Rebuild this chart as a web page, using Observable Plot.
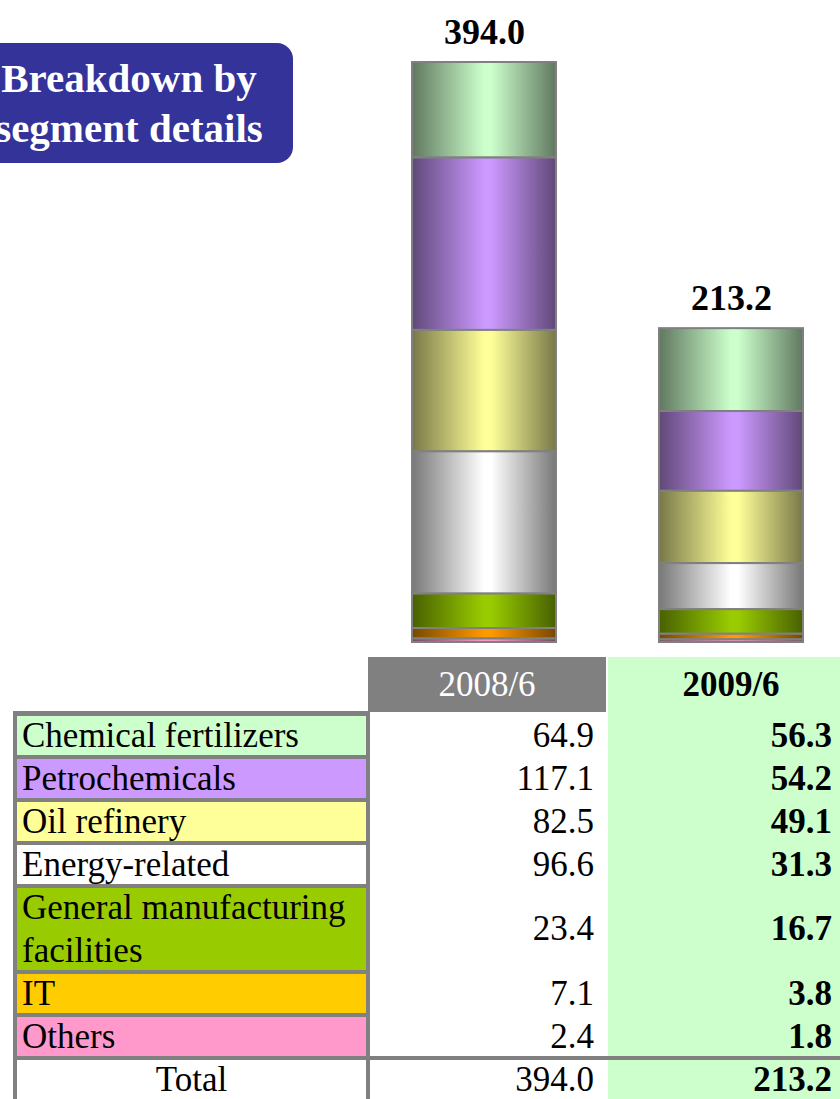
<!DOCTYPE html>
<html>
<head>
<meta charset="utf-8">
<script src="https://cdn.jsdelivr.net/npm/d3@7"></script>
<script src="https://cdn.jsdelivr.net/npm/@observablehq/plot@0.6"></script>
<style>
  html, body { margin: 0; padding: 0; background: #fff; }
  body { width: 840px; height: 1099px; overflow: hidden; position: relative;
         font-family: "Liberation Serif", "Times New Roman", serif; }
  #chart { position: absolute; left: 0; top: 0; }
  #title { position: absolute; left: -35px; top: 43px; width: 328px; height: 120px;
           box-sizing: border-box; padding-top: 10px; background: #333399; border-radius: 16px;
           color: #fff; font-weight: bold; font-size: 41px; line-height: 50px; text-align: center; z-index: 2; }
  .abs { position: absolute; box-sizing: border-box; }
  .cell { font-size: 35px; color: #000; white-space: nowrap; }
</style>
</head>
<body>
<div id="chart"></div>
<div id="title">Breakdown by<br>segment details</div>
<div id="table"></div>
<script>
// ---- data ----
const periods = ["2008/6", "2009/6"];
const categories = ["Chemical fertilizers", "Petrochemicals", "Oil refinery", "Energy-related",
                    "General manufacturing facilities", "IT", "Others"];
const values2008 = [64.9, 117.1, 82.5, 96.6, 23.4, 7.1, 2.4];
const values2009 = [56.3, 54.2, 49.1, 31.3, 16.7, 3.8, 1.8];
const tableColors = ["#ccffcc", "#cc99ff", "#ffff99", "#ffffff", "#99cc00", "#ffcc00", "#ff99cc"];
const barColors = ["#ccffcc", "#cc99ff", "#ffff99", "#ffffff", "#99cc00", "#ff9900", "#ff99cc"];
const totalLabel = "Total";

const series = [values2008, values2009];
const rows = [];
categories.forEach((c, i) => {
  periods.forEach((p, j) => rows.push({period: p, category: c, value: series[j][i], idx: i}));
});
const totals = periods.map((p, j) => ({period: p, total: d3.sum(series[j])}));
const fmt = d3.format(".1f");

// ---- chart ----
const chart = Plot.plot({
  width: 840, height: 650,
  marginTop: 62, marginBottom: 8, marginLeft: 0, marginRight: 0,
  x: {domain: periods, range: [411, 804], paddingInner: 0.415, paddingOuter: 0, axis: null},
  y: {domain: [0, d3.max(totals, d => d.total)], axis: null},
  color: {type: "identity"},
  style: {fontFamily: "Liberation Serif, serif", background: "transparent", overflow: "visible"},
  marks: [
    Plot.barY(rows, Plot.stackY({
      x: "period", y: "value", z: "category", reverse: true,
      fill: d => `url(#seg${d.idx})`, stroke: "#808080", strokeWidth: 2
    })),
    Plot.text(totals, {
      x: "period", y: "total", text: d => fmt(d.total), dy: -30,
      fontSize: 36, fontWeight: "bold", fill: "#000"
    })
  ]
});
const svg = d3.select(chart);
const defs = svg.insert("defs", ":first-child");
barColors.forEach((c, i) => {
  const dark = d3.interpolateRgb(c, "#000")(0.53);
  const g = defs.append("linearGradient").attr("id", "seg" + i)
    .attr("x1", 0).attr("x2", 1).attr("y1", 0).attr("y2", 0);
  [[0, dark], [0.5, c], [0.55, c], [1, dark]].forEach(([o, col]) =>
    g.append("stop").attr("offset", o).attr("stop-color", col));
});
document.getElementById("chart").appendChild(chart);

// ---- table ----
const T = document.getElementById("table");
function box(css, text, cls) {
  const d = document.createElement("div");
  d.className = "abs" + (cls ? " " + cls : "");
  Object.assign(d.style, css);
  if (text != null) d.textContent = text;
  T.appendChild(d);
  return d;
}
const GRAY = "#808080";
// backgrounds
box({left: "608px", top: "657px", width: "250px", height: "450px", background: "#ccffcc"});
box({left: "13px", top: "711px", width: "357px", height: "400px", background: GRAY});
box({left: "368px", top: "657px", width: "238px", height: "55px", background: GRAY});
// header
box({left: "368px", top: "657px", width: "238px", height: "55px", lineHeight: "55px",
     textAlign: "center", color: "#fff"}, periods[0], "cell");
box({left: "608px", top: "657px", width: "246px", height: "55px", lineHeight: "55px",
     textAlign: "center", fontWeight: "bold"}, periods[1], "cell");

let y = 716;
const pitch = 43;
categories.forEach((c, i) => {
  // measure lines
  const probe = box({left: "-2000px", top: "0px", width: "344px", lineHeight: pitch + "px",
                     whiteSpace: "normal"}, c, "cell");
  const h = Math.round(probe.offsetHeight / pitch) * pitch;
  probe.remove();
  const lab = box({left: "17px", top: y + "px", width: "349px", height: (h - 4) + "px",
                   background: tableColors[i], paddingLeft: "5px", overflow: "visible"}, null);
  const inner = document.createElement("div");
  inner.className = "cell";
  Object.assign(inner.style, {whiteSpace: "normal", lineHeight: pitch + "px", marginTop: "-2px", width: "344px"});
  inner.textContent = c;
  lab.appendChild(inner);
  box({left: "370px", top: (y - 2) + "px", width: "236px", height: h + "px", lineHeight: h + "px",
       textAlign: "right", paddingRight: "12px"}, fmt(values2008[i]), "cell");
  box({left: "608px", top: (y - 2) + "px", width: "232px", height: h + "px", lineHeight: h + "px",
       textAlign: "right", paddingRight: "8px", fontWeight: "bold"}, fmt(values2009[i]), "cell");
  y += h;
});
// total row
box({left: "13px", top: (y - 4) + "px", width: "840px", height: "4px", background: GRAY});
box({left: "17px", top: y + "px", width: "349px", height: "60px", background: "#fff",
     lineHeight: (pitch - 4) + "px", textAlign: "center"}, totalLabel, "cell");
box({left: "370px", top: (y - 2) + "px", width: "236px", height: pitch + "px", lineHeight: pitch + "px",
     textAlign: "right", paddingRight: "12px"}, fmt(totals[0].total), "cell");
box({left: "608px", top: (y - 2) + "px", width: "232px", height: pitch + "px", lineHeight: pitch + "px",
     textAlign: "right", paddingRight: "8px", fontWeight: "bold"}, fmt(totals[1].total), "cell");
</script>
</body>
</html>
